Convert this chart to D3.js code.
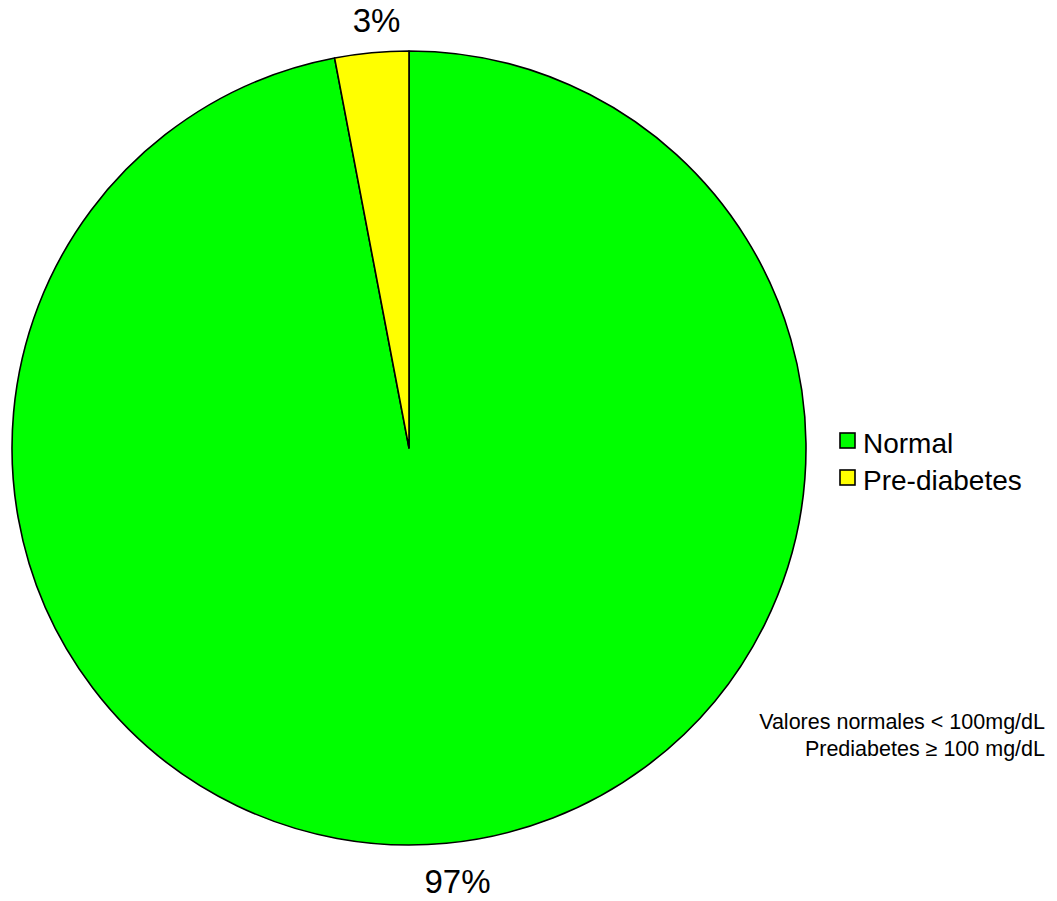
<!DOCTYPE html>
<html><head><meta charset="utf-8">
<script src="https://cdn.jsdelivr.net/npm/d3@7"></script>
<style>body{margin:0;background:#fff;} svg{display:block;font-family:"Liberation Sans",Arial,sans-serif;}</style>
</head><body>
<svg id="c" width="1057" height="901"></svg>
<script>
const categories = ["Normal", "Pre-diabetes"];
const values = [97, 3];
const colors = ["#00FF00", "#FFFF00"];
const notes = ["Valores normales < 100mg/dL", "Prediabetes \u2265 100 mg/dL"];

const svg = d3.select("#c");
const cx = 409, cy = 448, r = 397;
const g = svg.append("g").attr("transform", `translate(${cx},${cy})`);
const pie = d3.pie().sort(null).value(d => d.v);
const data = pie(categories.map((c, i) => ({c, v: values[i], col: colors[i]})));
const arc = d3.arc().innerRadius(0).outerRadius(r);
g.selectAll("path").data(data).join("path")
  .attr("d", arc).attr("fill", d => d.data.col)
  .attr("stroke", "#000").attr("stroke-width", 1.6).attr("stroke-linejoin", "round");

const lab = d3.arc().innerRadius(430).outerRadius(430);
g.selectAll("text.lbl").data(data).join("text").attr("class", "lbl")
  .attr("transform", d => `translate(${lab.centroid(d)})`)
  .attr("text-anchor", "middle").attr("dy", d => d.data.v > 50 ? "0.5em" : "0.36em").attr("dx", 8)
  .attr("font-size", 33).attr("fill", "#000")
  .text(d => d.data.v + "%");

const leg = svg.append("g").attr("transform", "translate(840,433)");
categories.forEach((c, i) => {
  const row = leg.append("g").attr("transform", `translate(0,${i * 37})`);
  row.append("rect").attr("x", 0).attr("y", 0).attr("width", 15).attr("height", 15)
    .attr("fill", colors[i]).attr("stroke", "#000").attr("stroke-width", 1.6);
  row.append("text").attr("x", 23).attr("y", 20).attr("font-size", 28).text(c);
});

notes.forEach((t, i) => {
  svg.append("text").attr("x", 1045).attr("y", 729 + i * 27)
    .attr("text-anchor", "end").attr("font-size", 21.5).text(t);
});
</script>
</body></html>
